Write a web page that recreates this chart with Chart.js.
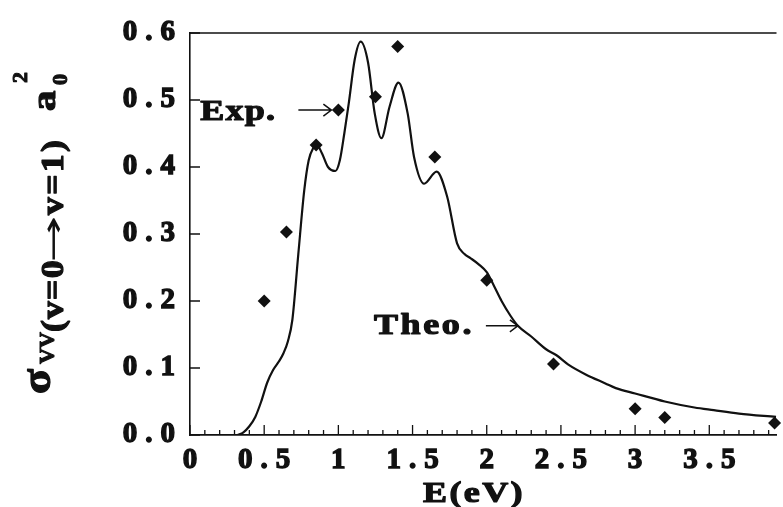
<!DOCTYPE html>
<html>
<head>
<meta charset="utf-8">
<script src="https://cdn.jsdelivr.net/npm/chart.js@4.4.0/dist/chart.umd.min.js"></script>
<style>
  html, body { margin: 0; padding: 0; background: #fff; }
  #wrap { width: 783px; height: 507px; }
</style>
</head>
<body>
<div id="wrap"><canvas id="vvChart"></canvas></div>
<script>
// theoretical cross section (solid curve)
const theoE = [0.32, 0.36, 0.40, 0.44, 0.48, 0.52, 0.56, 0.60, 0.63, 0.66, 0.69, 0.73, 0.77, 0.80, 0.83, 0.855,
    0.89, 0.93, 0.98, 1.01, 1.04, 1.07, 1.11, 1.15, 1.20, 1.245, 1.29, 1.345, 1.405, 1.467, 1.51, 1.578,
    1.662, 1.733, 1.80, 1.85, 1.89, 1.95, 2.00, 2.05, 2.10, 2.16, 2.21, 2.30, 2.40, 2.47, 2.55, 2.67,
    2.80, 2.87, 3.00, 3.20, 3.40, 3.53, 3.70, 3.95];
const theoSigma = [0.0, 0.004, 0.013, 0.027, 0.05, 0.078, 0.097, 0.11, 0.122, 0.14, 0.172, 0.27, 0.365, 0.41, 0.428, 0.433,
    0.42, 0.40, 0.394, 0.41, 0.45, 0.495, 0.56, 0.587, 0.556, 0.48, 0.443, 0.49, 0.526, 0.48, 0.415, 0.375,
    0.393, 0.356, 0.286, 0.27, 0.264, 0.254, 0.243, 0.222, 0.20, 0.178, 0.163, 0.147, 0.128, 0.119, 0.105, 0.09,
    0.077, 0.07, 0.062, 0.05, 0.041, 0.037, 0.032, 0.027];

// experimental points (diamonds)
const expE = [0.5, 0.65, 0.85, 1.0, 1.25, 1.4, 1.65, 2.0, 2.45, 3.0, 3.2, 3.94];
const expSigma = [0.2, 0.303, 0.433, 0.485, 0.505, 0.58, 0.415, 0.231, 0.106, 0.039, 0.026, 0.018];

const xTickLabels = ['0', '0.5', '1', '1.5', '2', '2.5', '3', '3.5'];
const yTickLabels = ['0.0', '0.1', '0.2', '0.3', '0.4', '0.5', '0.6'];

const serif = "'Liberation Serif', 'Times New Roman', serif";
const ink = '#111';

function pts(xs, ys) {
    return xs.map((x, i) => ({ x: x, y: ys[i] }));
}

// bold, slightly widened text like the scanned print
function txt(ctx, s, x, y, size, spacing, sx, stroke) {
    ctx.save();
    ctx.translate(x, y);
    ctx.scale(sx, 1);
    ctx.font = 'bold ' + size + 'px ' + serif;
    ctx.letterSpacing = spacing + 'px';
    ctx.textAlign = 'left';
    ctx.textBaseline = 'alphabetic';
    if (stroke) {
        ctx.lineWidth = stroke;
        ctx.lineJoin = 'round';
        ctx.strokeText(s, 0, 0);
    }
    ctx.fillText(s, 0, 0);
    ctx.restore();
}

// arrow like the printed "→": shaft plus an open head
function arrow(ctx, x0, x1, y) {
    ctx.beginPath();
    ctx.moveTo(x0, y);
    ctx.lineTo(x1, y);
    ctx.moveTo(x1 - 8, y - 6);
    ctx.lineTo(x1, y);
    ctx.lineTo(x1 - 8, y + 6);
    ctx.stroke();
}

const framePlugin = {
    id: 'frame',
    beforeDraw(chart) {
        chart.ctx.letterSpacing = '8px';   // spaced tick labels as in the print
    },
    afterDraw(chart) {
        const ctx = chart.ctx;
        const area = chart.chartArea;
        const xs = chart.scales.x;
        const ys = chart.scales.y;
        ctx.save();
        ctx.letterSpacing = '0px';
        ctx.strokeStyle = ink;
        ctx.fillStyle = ink;
        ctx.lineWidth = 1.6;

        // top border
        ctx.beginPath();
        ctx.moveTo(area.left, area.top);
        ctx.lineTo(area.right, area.top);
        ctx.stroke();

        // inward ticks
        ctx.lineWidth = 1.3;
        ctx.beginPath();
        xs.ticks.forEach(t => {
            const px = xs.getPixelForValue(t.value);
            const major = Math.abs(t.value * 2 - Math.round(t.value * 2)) < 1e-6;
            ctx.moveTo(px, area.bottom);
            ctx.lineTo(px, area.bottom - (major ? 10 : 5));
        });
        ys.ticks.forEach(t => {
            const py = ys.getPixelForValue(t.value);
            ctx.moveTo(area.left, py);
            ctx.lineTo(area.left + 10, py);
        });
        ctx.stroke();

        // x title
        txt(ctx, 'E(eV)', 423, area.bottom + 67, 30, 2, 1.2, 1.2);

        // "Exp." pointing at the 1.0 eV point
        const ex = xs.getPixelForValue(expE[3]) - 7;
        const ey = ys.getPixelForValue(expSigma[3]);
        ctx.lineWidth = 1.5;
        arrow(ctx, ex - 33, ex, ey);
        txt(ctx, 'Exp.', ex - 131, ey + 10, 30, 1, 1.2, 1.2);

        // "Theo." pointing at the curve
        const tx = xs.getPixelForValue(2.21);
        const ty = ys.getPixelForValue(theoSigma[42]);
        ctx.lineWidth = 1.5;
        arrow(ctx, tx - 32, tx, ty);
        txt(ctx, 'Theo.', tx - 144, ty + 8, 30, 2.2, 1.2, 1.2);

        // y title, rotated: σ_VV(v=0→v=1) a_0^2  (u = -page y, v = page x)
        ctx.rotate(-Math.PI / 2);
        txt(ctx, 'σ', -394, 50, 42, 0, 1.1, 1.2);
        txt(ctx, 'VV', -364, 54, 22, 0, 1.0, 1.0);
        txt(ctx, '(v=0', -332, 63, 32, 1, 1.12, 1.2);
        ctx.save();
        ctx.font = '30px "DejaVu Sans"';
        const aw = ctx.measureText('→').width;
        ctx.translate(-263, 63);
        ctx.scale(47 / aw, 1);
        ctx.fillText('→', 0, 0);
        ctx.restore();
        txt(ctx, 'v=1)', -215, 63, 32, 2, 1.12, 1.2);
        txt(ctx, 'a', -111, 55, 34, 0, 1.2, 1.2);
        txt(ctx, '0', -85, 67, 20, 0, 1.1, 1.0);
        txt(ctx, '2', -83, 27, 20, 0, 1.1, 1.0);
        ctx.restore();
        ctx.letterSpacing = '0px';
    }
};

const ctx = document.getElementById('vvChart').getContext('2d');
const vvChart = new Chart(ctx, {
    type: 'scatter',
    data: {
        datasets: [{
            label: 'Theo.',
            data: pts(theoE, theoSigma),
            showLine: true,
            borderColor: ink,
            borderWidth: 2.2,
            pointRadius: 0,
            cubicInterpolationMode: 'monotone',
            fill: false
        }, {
            label: 'Exp.',
            data: pts(expE, expSigma),
            pointStyle: 'rectRot',
            pointRadius: 6.5,
            backgroundColor: ink,
            borderColor: ink,
            borderWidth: 0,
            clip: false
        }]
    },
    options: {
        responsive: true,
        maintainAspectRatio: false,
        animation: false,
        events: [],
        layout: { padding: { top: 33, right: 0, bottom: 0, left: 0 } },
        plugins: {
            legend: { display: false },
            tooltip: { enabled: false }
        },
        scales: {
            x: {
                type: 'linear',
                min: 0,
                max: 3.953,
                grid: { display: false, drawTicks: false },
                border: { display: true, color: ink, width: 1.8 },
                afterBuildTicks: scale => {
                    const t = [];
                    for (let i = 0; i <= 39; i++) t.push({ value: i / 10 });
                    scale.ticks = t;
                },
                afterFit: scale => { scale.height = 72; },
                ticks: {
                    autoSkip: false,
                    maxRotation: 0,
                    padding: 8,
                    labelOffset: 4,
                    color: ink,
                    textStrokeColor: ink,
                    textStrokeWidth: 1.4,
                    font: { family: serif, size: 29, weight: 'bold' },
                    callback: v => {
                        const h = v * 2;
                        if (Math.abs(h - Math.round(h)) > 1e-6) return '';
                        return xTickLabels[Math.round(h)] || '';
                    }
                }
            },
            y: {
                type: 'linear',
                min: 0,
                max: 0.6,
                grid: { display: false, drawTicks: false },
                border: { display: true, color: ink, width: 1.6 },
                afterFit: scale => { scale.width = 190; },
                ticks: {
                    stepSize: 0.1,
                    padding: 7,
                    color: ink,
                    textStrokeColor: ink,
                    textStrokeWidth: 1.4,
                    font: { family: serif, size: 29, weight: 'bold' },
                    callback: v => yTickLabels[Math.round(v * 10)]
                }
            }
        }
    },
    plugins: [framePlugin]
});
</script>
</body>
</html>
